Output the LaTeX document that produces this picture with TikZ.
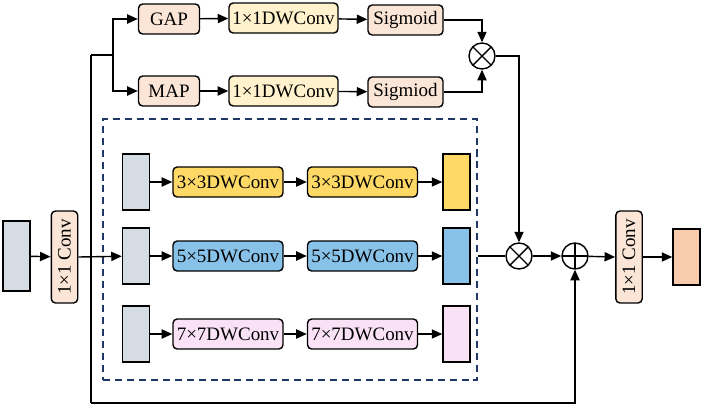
\documentclass[tikz,border=0pt]{standalone}
\usepackage{fontspec}
\setmainfont{Liberation Serif}
\usetikzlibrary{arrows.meta}

\definecolor{featgray}{RGB}{214,220,228}
\definecolor{peach}{RGB}{251,229,214}
\definecolor{cream}{RGB}{255,242,204}
\definecolor{gold}{RGB}{255,217,102}
\definecolor{skyblue}{RGB}{136,194,232}
\definecolor{lightpink}{RGB}{250,226,246}
\definecolor{outorange}{RGB}{248,203,173}
\definecolor{darkblue}{RGB}{31,56,100}

\begin{document}
\begin{tikzpicture}[x=0.025cm,y=-0.025cm,
    line width=1pt,
    >={Triangle[length=7.5pt,width=6.5pt]},
    every node/.style={font=\fontsize{13.5}{15}\selectfont, inner sep=0pt},
    feat/.style={draw, minimum width=0.675cm, minimum height=1.4cm},
    op/.style={draw, rounded corners=3pt, minimum height=0.75cm},
    conv/.style={draw, rounded corners=3pt, fill=peach, rotate=90,
        minimum width=2.3cm, minimum height=0.66cm},
    mulsign/.style={draw, circle, minimum size=0.65cm,
        path picture={\draw (path picture bounding box.north west) -- (path picture bounding box.south east)
            (path picture bounding box.north east) -- (path picture bounding box.south west);}},
    addsign/.style={draw, circle, minimum size=0.65cm,
        path picture={\draw (path picture bounding box.north) -- (path picture bounding box.south)
            (path picture bounding box.east) -- (path picture bounding box.west);}}]
  \useasboundingbox (0,0) rectangle (703,410);

  % input and first conv
  \node[feat, fill=featgray, minimum height=1.75cm] (in) at (16.5,256) {};
  \node[conv] (convin) at (64.5,257) {1×1 Conv};

  % attention branch
  \node[op, fill=peach, minimum width=1.525cm] (gap) at (169,19) {GAP};
  \node[op, fill=peach, minimum width=1.525cm] (map) at (169,91) {MAP};
  \node[op, fill=cream, minimum width=2.725cm] (dwa) at (283.5,18) {1×1DWConv};
  \node[op, fill=cream, minimum width=2.725cm] (dwb) at (283.5,91) {1×1DWConv};
  \node[op, fill=peach, minimum width=1.875cm] (siga) at (405.5,20) {Sigmoid};
  \node[op, fill=peach, minimum width=1.875cm] (sigb) at (405.5,92) {Sigmiod};
  \node[mulsign] (mula) at (482,56) {};

  % multi-scale part
  \node[draw=darkblue, dash pattern=on 5pt off 3.5pt, minimum width=9.35cm, minimum height=6.525cm] (ms) at (290,249.5) {};

  \node[feat, fill=featgray] (ga) at (136,182) {};
  \node[op, fill=gold, minimum width=2.75cm] (ka) at (228,182) {3×3DWConv};
  \node[op, fill=gold, minimum width=2.75cm] (kb) at (362.5,182) {3×3DWConv};
  \node[feat, fill=gold] (oa) at (456.5,182) {};

  \node[feat, fill=featgray] (gb) at (136,256) {};
  \node[op, fill=skyblue, minimum width=2.75cm] (kc) at (228,256) {5×5DWConv};
  \node[op, fill=skyblue, minimum width=2.75cm] (kd) at (362.5,256) {5×5DWConv};
  \node[feat, fill=skyblue] (ob) at (456.5,256) {};

  \node[feat, fill=featgray] (gc) at (136,334) {};
  \node[op, fill=lightpink, minimum width=2.75cm] (ke) at (228,334) {7×7DWConv};
  \node[op, fill=lightpink, minimum width=2.75cm] (kf) at (362.5,334) {7×7DWConv};
  \node[feat, fill=lightpink] (oc) at (456.5,334) {};

  % fusion and output
  \node[mulsign] (mulb) at (519,256) {};
  \node[addsign] (add) at (575,256) {};
  \node[conv] (convout) at (629,257) {1×1 Conv};
  \node[feat, fill=outorange] (out) at (686.5,257) {};

  \coordinate (br) at (91,55);
  \coordinate (sp) at (113,55);
  \coordinate (lo) at (91,403);

  \draw[->] (in) -- (convin);
  \draw[->] (convin.south) -- (gb);
  \draw (br) -- (sp);
  \draw[->] (sp) |- (gap);
  \draw[->] (sp) |- (map);
  \draw (br) -- (lo);
  \draw[->] (lo) -| (add.south);

  \draw[->] (gap) -- (dwa);
  \draw[->] (map) -- (dwb);
  \draw[->] (dwa) -- (siga);
  \draw[->] (dwb) -- (sigb);
  \draw[->] (siga.east) -| (mula.north);
  \draw[->] (sigb.east) -| (mula.south);
  \draw[->] (mula.east) -| (mulb.north);

  \draw[->] (ga) -- (ka);
  \draw[->] (ka) -- (kb);
  \draw[->] (kb) -- (oa);
  \draw[->] (gb) -- (kc);
  \draw[->] (kc) -- (kd);
  \draw[->] (kd) -- (ob);
  \draw[->] (gc) -- (ke);
  \draw[->] (ke) -- (kf);
  \draw[->] (kf) -- (oc);

  \draw (ms.east |- mulb) -- (mulb);
  \draw[->] (mulb) -- (add);
  \draw[->] (add) -- (convout.north);
  \draw[->] (convout.south) -- (out);
\end{tikzpicture}
\end{document}
